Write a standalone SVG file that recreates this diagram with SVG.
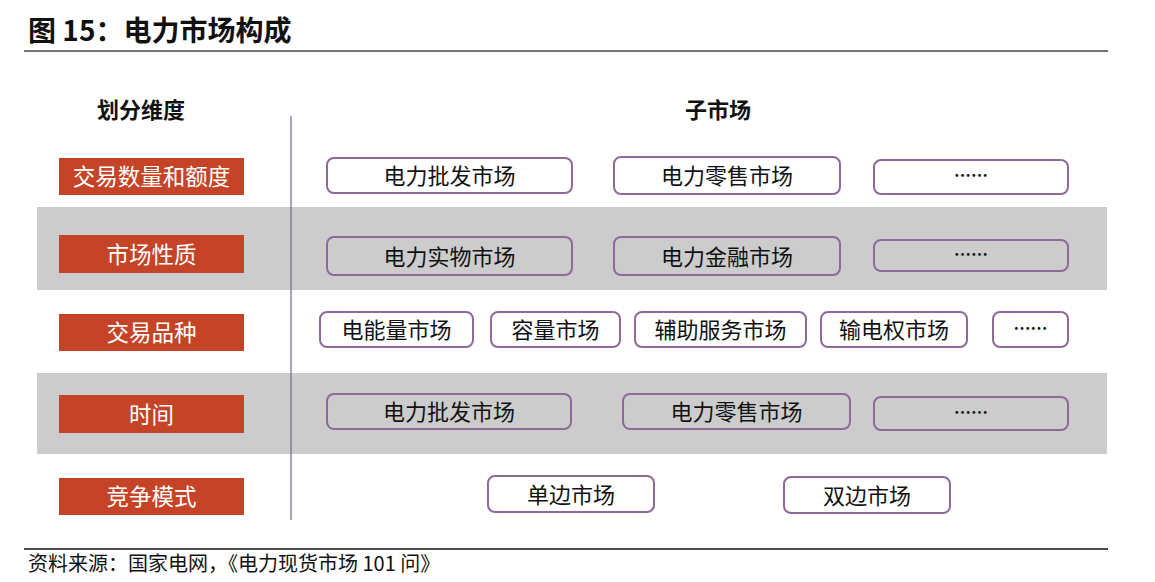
<svg xmlns="http://www.w3.org/2000/svg" width="1155" height="582" viewBox="0 0 1155 582">
<style>
text{font-family:"Noto Sans CJK SC","Noto Sans",sans-serif;}
.title{font-size:28px;font-weight:bold;fill:#111;}
.hdr{font-size:22px;font-weight:bold;fill:#111;text-anchor:middle;}
.lab rect{fill:#c54427;}
.lab text{font-size:22.5px;fill:#fff;text-anchor:middle;dominant-baseline:central;}
.box rect{fill:#fff;stroke:#8e6a9c;stroke-width:2;}
.box.t rect{fill:none;}
.box text{font-size:22px;fill:#111;text-anchor:middle;dominant-baseline:central;}
.box text.d{font-size:17px;font-weight:bold;}
.band{fill:#cccccc;}
.src{font-size:20px;fill:#111;}
</style>
<rect width="1155" height="582" fill="#fff"/>
<text class="title" x="28" y="41">图 15：电力市场构成</text>
<line x1="24" y1="51" x2="1108" y2="51" stroke="#444" stroke-width="1.5"/>
<rect class="band" x="37" y="207" width="1070" height="83"/>
<rect class="band" x="37" y="373" width="1070" height="81"/>
<text class="hdr" x="141" y="118">划分维度</text>
<text class="hdr" x="718" y="118">子市场</text>
<g id="connectors">
<line x1="291" y1="116" x2="291" y2="520" stroke="#6e6a86" stroke-width="1.2"/>
</g>
<g id="dim1" class="lab"><rect x="59" y="158" width="185" height="37"/><text x="151.5" y="175">交易数量和额度</text></g>
<g id="dim2" class="lab"><rect x="59" y="235" width="185" height="38"/><text x="151.5" y="252.5">市场性质</text></g>
<g id="dim3" class="lab"><rect x="59" y="314" width="185" height="37"/><text x="151.5" y="331">交易品种</text></g>
<g id="dim4" class="lab"><rect x="59" y="395" width="185" height="38"/><text x="151.5" y="412.5">时间</text></g>
<g id="dim5" class="lab"><rect x="59" y="478" width="185" height="37"/><text x="151.5" y="495">竞争模式</text></g>
<g id="r1b1" class="box"><rect x="327" y="158" width="245" height="35" rx="7"/><text x="449.5" y="174">电力批发市场</text></g>
<g id="r1b2" class="box"><rect x="614" y="157" width="226" height="37" rx="7"/><text x="727" y="174">电力零售市场</text></g>
<g id="r1b3" class="box"><rect x="874" y="160" width="194" height="34" rx="7"/><text class="d" x="971" y="174">……</text></g>
<g id="r2b1" class="box t"><rect x="327" y="237" width="245" height="38" rx="7"/><text x="449.5" y="254.5">电力实物市场</text></g>
<g id="r2b2" class="box t"><rect x="614" y="237" width="226" height="38" rx="7"/><text x="727" y="254.5">电力金融市场</text></g>
<g id="r2b3" class="box t"><rect x="874" y="240" width="194" height="31" rx="7"/><text class="d" x="971" y="253">……</text></g>
<g id="r3b1" class="box"><rect x="320" y="312" width="153" height="35" rx="7"/><text x="396.5" y="328">电能量市场</text></g>
<g id="r3b2" class="box"><rect x="491" y="312" width="129" height="35" rx="7"/><text x="555.5" y="328">容量市场</text></g>
<g id="r3b3" class="box"><rect x="635" y="312" width="171" height="35" rx="7"/><text x="720.5" y="328">辅助服务市场</text></g>
<g id="r3b4" class="box"><rect x="821" y="312" width="146" height="35" rx="7"/><text x="894" y="328">输电权市场</text></g>
<g id="r3b5" class="box"><rect x="993" y="312" width="75" height="35" rx="7"/><text class="d" x="1030.5" y="327">……</text></g>
<g id="r4b1" class="box t"><rect x="327" y="394" width="244" height="35" rx="7"/><text x="449" y="410">电力批发市场</text></g>
<g id="r4b2" class="box t"><rect x="623" y="394" width="227" height="35" rx="7"/><text x="736.5" y="410">电力零售市场</text></g>
<g id="r4b3" class="box t"><rect x="874" y="397" width="194" height="33" rx="7"/><text class="d" x="971" y="411">……</text></g>
<g id="r5b1" class="box"><rect x="488" y="476" width="166" height="36" rx="7"/><text x="571" y="492.5">单边市场</text></g>
<g id="r5b2" class="box"><rect x="784" y="477" width="166" height="36" rx="7"/><text x="867" y="493.5">双边市场</text></g>
<line x1="24" y1="549" x2="1108" y2="549" stroke="#111" stroke-width="1.5"/>
<text class="src" x="28" y="571">资料来源：国家电网，《电力现货市场 101 问》</text>
</svg>
